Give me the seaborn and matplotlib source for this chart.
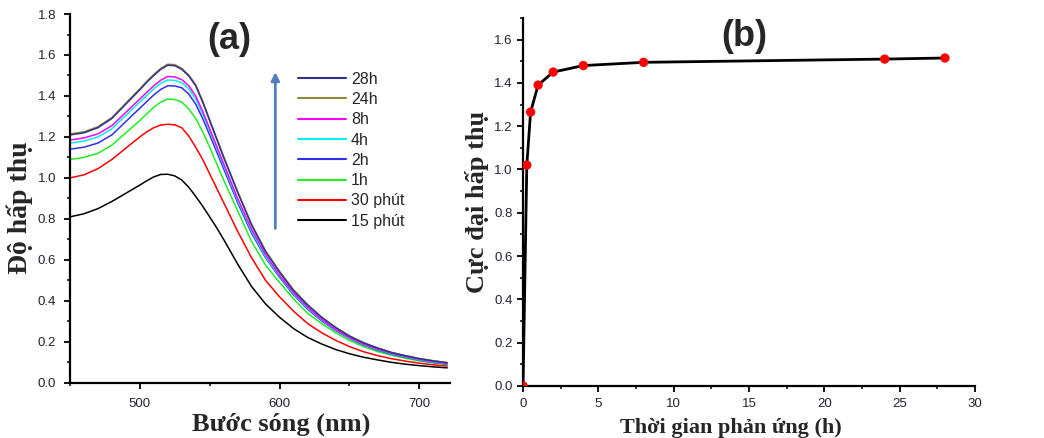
#!/usr/bin/env python3
"""UV-Vis spectra over reaction time (a) and peak absorbance vs time (b)."""
import pandas as pd
import matplotlib
matplotlib.use('Agg')
import matplotlib.pyplot as plt
from matplotlib.ticker import MultipleLocator, FormatStrFormatter
from matplotlib.lines import Line2D
import seaborn as sns

# ---- data ----
wavelength = [450, 460, 470, 480, 490, 495, 500, 505, 510, 515, 520, 525, 530, 535, 540, 545,
              550, 555, 560, 565, 570, 580, 590, 600, 610, 620, 630, 640, 650, 660, 670, 680,
              690, 700, 710, 720]

abs_15min = [0.81, 0.825, 0.85, 0.885, 0.925, 0.945, 0.965, 0.986, 1.005, 1.017, 1.018, 1.01, 0.99, 0.955,
             0.91, 0.862, 0.81, 0.757, 0.70, 0.64, 0.58, 0.47, 0.385, 0.32, 0.265, 0.222, 0.19, 0.163,
             0.142, 0.125, 0.112, 0.10, 0.091, 0.084, 0.078, 0.073]
abs_30min = [1.00, 1.015, 1.045, 1.09, 1.145, 1.173, 1.20, 1.225, 1.245, 1.258, 1.262, 1.259, 1.245, 1.205,
             1.15, 1.09, 1.02, 0.95, 0.88, 0.81, 0.74, 0.61, 0.50, 0.42, 0.35, 0.29, 0.245, 0.208,
             0.177, 0.152, 0.133, 0.118, 0.106, 0.096, 0.088, 0.082]
abs_1h = [1.09, 1.10, 1.12, 1.16, 1.22, 1.25, 1.28, 1.313, 1.345, 1.37, 1.385, 1.383, 1.37, 1.337,
          1.29, 1.225, 1.15, 1.07, 0.99, 0.915, 0.84, 0.69, 0.575, 0.49, 0.41, 0.34, 0.29, 0.245,
          0.207, 0.177, 0.153, 0.135, 0.12, 0.107, 0.097, 0.089]
abs_2h = [1.14, 1.15, 1.17, 1.21, 1.275, 1.308, 1.34, 1.373, 1.405, 1.432, 1.45, 1.449, 1.44, 1.41,
          1.36, 1.29, 1.21, 1.128, 1.045, 0.962, 0.88, 0.73, 0.61, 0.515, 0.43, 0.36, 0.303, 0.256,
          0.217, 0.185, 0.16, 0.14, 0.125, 0.111, 0.10, 0.092]
abs_4h = [1.17, 1.18, 1.20, 1.24, 1.305, 1.338, 1.37, 1.403, 1.435, 1.462, 1.478, 1.476, 1.465, 1.435,
          1.385, 1.31, 1.23, 1.145, 1.06, 0.975, 0.89, 0.74, 0.615, 0.52, 0.435, 0.365, 0.307, 0.26,
          0.22, 0.188, 0.163, 0.143, 0.127, 0.113, 0.102, 0.094]
abs_8h = [1.185, 1.195, 1.215, 1.255, 1.32, 1.353, 1.385, 1.418, 1.45, 1.477, 1.495, 1.493, 1.48, 1.45,
          1.40, 1.325, 1.24, 1.155, 1.07, 0.985, 0.90, 0.75, 0.625, 0.525, 0.44, 0.37, 0.31, 0.262,
          0.222, 0.19, 0.165, 0.145, 0.129, 0.115, 0.104, 0.095]
abs_24h = [1.215, 1.225, 1.25, 1.295, 1.365, 1.40, 1.435, 1.472, 1.505, 1.535, 1.555, 1.553, 1.535, 1.503,
           1.455, 1.375, 1.285, 1.195, 1.105, 1.02, 0.935, 0.775, 0.645, 0.545, 0.455, 0.383, 0.322, 0.272,
           0.23, 0.197, 0.171, 0.149, 0.133, 0.119, 0.108, 0.099]
abs_28h = [1.21, 1.22, 1.245, 1.29, 1.36, 1.395, 1.43, 1.467, 1.50, 1.53, 1.55, 1.548, 1.53, 1.498,
           1.45, 1.37, 1.28, 1.19, 1.10, 1.015, 0.93, 0.77, 0.64, 0.54, 0.45, 0.38, 0.32, 0.27,
           0.228, 0.195, 0.17, 0.148, 0.132, 0.118, 0.107, 0.098]

series_labels = ['15 phút', '30 phút', '1h', '2h', '4h', '8h', '24h', '28h']
series_colors = ['#000000', '#FF0000', '#22EE22', '#2E2EF0', '#00F0F0', '#FF00FF', '#8C8C3C', '#303090']

time_h = [0, 0.25, 0.5, 1, 2, 4, 8, 24, 28]
peak_abs = [0.0, 1.02, 1.265, 1.39, 1.45, 1.48, 1.495, 1.51, 1.515]

spectra = pd.concat([
    pd.DataFrame({'wl': wavelength, 'A': vals, 'series': lab})
    for vals, lab in zip([abs_15min, abs_30min, abs_1h, abs_2h, abs_4h, abs_8h, abs_24h, abs_28h],
                         series_labels)
], ignore_index=True)
kinetics = pd.DataFrame({'t': time_h, 'A': peak_abs})

sns.set_theme(style='ticks')
plt.rcParams['font.family'] = ['Liberation Sans', 'DejaVu Sans']

fig = plt.figure(figsize=(10.44, 4.38), dpi=100)
ax1 = fig.add_axes([0.067, 0.126, 0.364, 0.842])
ax2 = fig.add_axes([0.501, 0.119, 0.433, 0.840])

serif = ['Liberation Serif', 'DejaVu Serif']
tick_col = '#222233'

# ---- (a) spectra ----
sns.lineplot(data=spectra, x='wl', y='A', hue='series', hue_order=series_labels,
             palette=series_colors, linewidth=1.1, legend=False, ax=ax1)
ax1.set_xlim(450, 722)
ax1.set_ylim(0, 1.8)
ax1.xaxis.set_major_locator(MultipleLocator(100))
ax1.xaxis.set_minor_locator(MultipleLocator(50))
ax1.yaxis.set_major_locator(MultipleLocator(0.2))
ax1.yaxis.set_minor_locator(MultipleLocator(0.1))
ax1.yaxis.set_major_formatter(FormatStrFormatter('%.1f'))
ax1.set_xlabel('Bước sóng (nm)', family=serif, fontweight='bold', fontsize=19)
ax1.set_ylabel('Độ hấp thụ', family=serif, fontweight='bold', fontsize=20)
ax1.xaxis.set_label_coords(0.555, -0.082)
ax1.yaxis.set_label_coords(-0.097, 0.475)
ax1.text(0.42, 0.93, '(a)', transform=ax1.transAxes, ha='center', va='center',
         fontsize=26, fontweight='bold')

handles = [Line2D([0], [0], color=c, lw=1.5) for c in series_colors][::-1]
ax1.legend(handles, series_labels[::-1], loc='upper left', bbox_to_anchor=(0.58, 0.865),
           frameon=False, fontsize=11.5, handlelength=3.0, handletextpad=0.3,
           labelspacing=0.33, borderpad=0)
ax1.annotate('', xy=(597, 1.53), xytext=(597, 0.74),
             arrowprops=dict(arrowstyle='-|>', color='#4F7FBF', lw=2, mutation_scale=12))

# ---- (b) kinetics ----
sns.lineplot(data=kinetics, x='t', y='A', color='black', linewidth=2, ax=ax2)
sns.scatterplot(data=kinetics, x='t', y='A', color='#FF0000', s=45, edgecolor='none',
                zorder=5, clip_on=True, ax=ax2)
ax2.set_xlim(0, 30)
ax2.set_ylim(0, 1.7)
ax2.xaxis.set_major_locator(MultipleLocator(5))
ax2.xaxis.set_minor_locator(MultipleLocator(2.5))
ax2.yaxis.set_major_locator(MultipleLocator(0.2))
ax2.yaxis.set_minor_locator(MultipleLocator(0.1))
ax2.yaxis.set_major_formatter(FormatStrFormatter('%.1f'))
ax2.set_xlabel('Thời gian phản ứng (h)', family=serif, fontweight='bold', fontsize=16)
ax2.set_ylabel('Cực đại hấp thụ', family=serif, fontweight='bold', fontsize=19)
ax2.xaxis.set_label_coords(0.46, -0.088)
ax2.text(0.49, 0.95, '(b)', transform=ax2.transAxes, ha='center', va='center',
         fontsize=26, fontweight='bold')

for ax in (ax1, ax2):
    sns.despine(ax=ax)
    for side in ('left', 'bottom'):
        ax.spines[side].set_linewidth(1.6)
        ax.spines[side].set_color('black')
    ax.tick_params(which='major', direction='out', length=4, width=1.3, color='black',
                   labelsize=9.5, labelcolor=tick_col)
    ax.tick_params(which='minor', direction='out', length=2.5, width=1.1, color='black')
    ax.tick_params(axis='x', which='major', pad=7)
ax1.tick_params(axis='y', which='major', pad=6)
ax2.tick_params(axis='x', which='major', pad=5)

fig.savefig('out.png', dpi=100)
